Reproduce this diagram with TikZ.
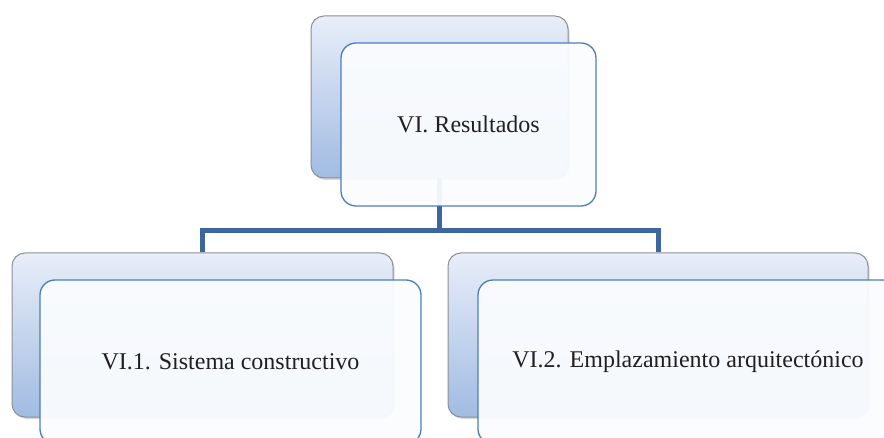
\documentclass[tikz,border=0pt]{standalone}
\usepackage{fontspec}
\setmainfont{Liberation Serif}
\usetikzlibrary{positioning, shadows}

\definecolor{linkblue}{HTML}{3C679E}
\definecolor{edgeblue}{HTML}{4A7EC0}
\definecolor{backedge}{HTML}{8C8F94}
\definecolor{backtop}{HTML}{E8EEF9}
\definecolor{backbot}{HTML}{A1BBE2}
\definecolor{frontfill}{HTML}{FAFCFE}
\definecolor{textgrey}{HTML}{231F20}

\tikzset{
  backbox/.style={draw=backedge, line width=1pt, rounded corners=13pt,
    top color=backtop, bottom color=backbot, inner sep=0pt,
    drop shadow={shadow xshift=1.5pt, shadow yshift=-2pt, opacity=.3}},
  frontbox/.style={draw=edgeblue, line width=1.3pt, rounded corners=15pt,
    fill=frontfill, fill opacity=.95, text opacity=1, text=textgrey,
    font=\fontsize{24}{28}\selectfont, inner sep=0pt},
  link/.style={draw=linkblue, line width=5pt}
}

\begin{document}
\begin{tikzpicture}[x=1pt, y=-1pt]
	\useasboundingbox (0,0) rectangle (884,438);
	\clip (0,0) rectangle (884,438);
	% back boxes
	\node[backbox, minimum width=257pt, minimum height=162pt] (rb) at (439.5,97) {};
	\node[backbox, minimum width=381pt, minimum height=164pt] (b1) at (202.5,335) {};
	\node[backbox, minimum width=420pt, minimum height=164pt] (b2) at (658,335) {};
	% connectors
	\path (rb.south) ++(0,52) coordinate (j);
	\draw[link] (rb.south) -- (j);
	\draw[link] (b1.north) |- (j) -| (b2.north);
	% front boxes
	\node[frontbox, minimum width=255pt, minimum height=163pt] (rf) at (468.5,124.5) {VI. Resultados};
	\node[frontbox, minimum width=381pt, minimum height=164pt] (f1) at (230.5,362) {VI.1. Sistema constructivo};
	\node[frontbox, minimum width=420pt, minimum height=164pt] (f2) at (688,362) {VI.2. Emplazamiento arquitectónico};
\end{tikzpicture}
\end{document}
